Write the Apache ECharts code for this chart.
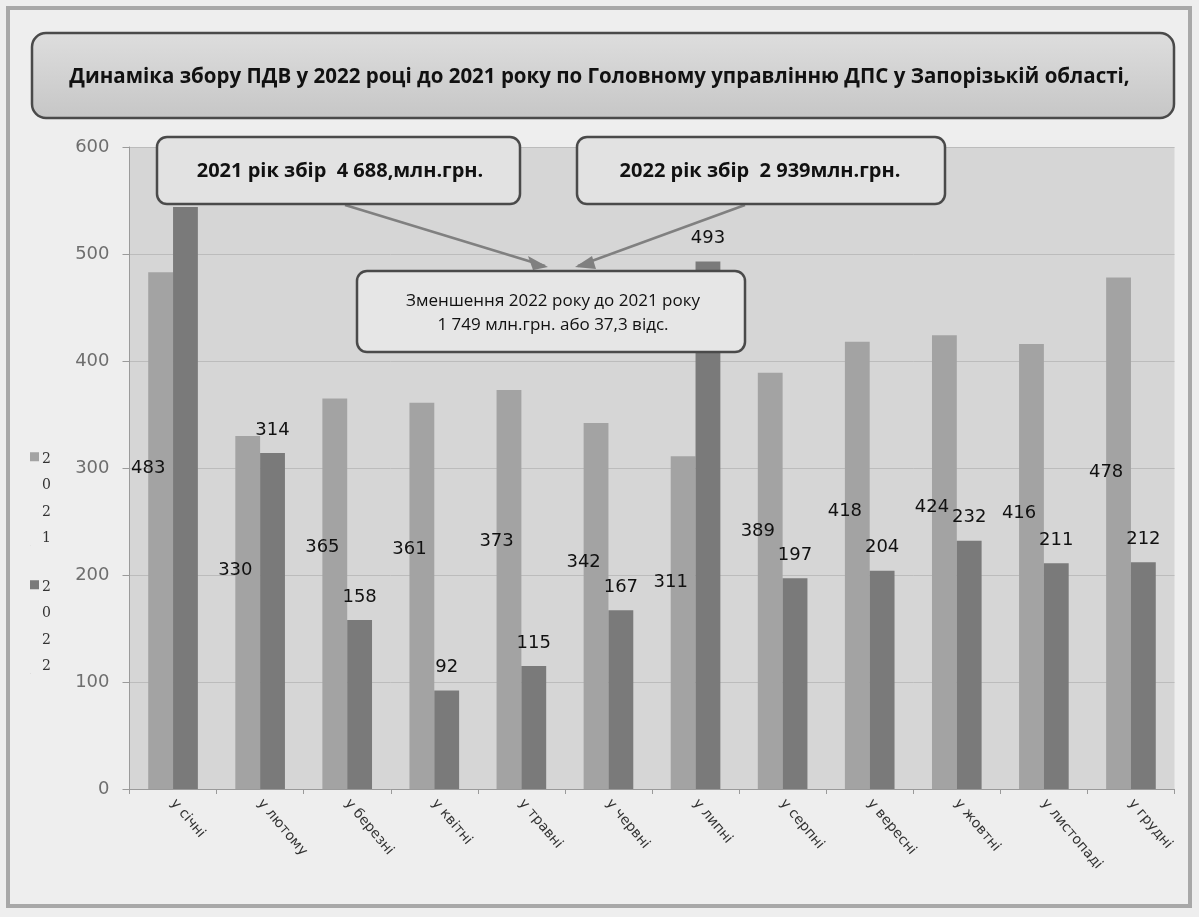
<!DOCTYPE html>
<html>
<head>
<meta charset="utf-8">
<script src="https://cdn.jsdelivr.net/npm/echarts@6/dist/echarts.min.js"></script>
<style>
html,body{margin:0;padding:0;background:#bdbdbd;}
#chart{width:1199px;height:917px;}
</style>
</head>
<body>
<div id="chart"></div>
<script>
const categories = ['у січні', 'у лютому', 'у березні', 'у квітні', 'у травні', 'у червні', 'у липні', 'у серпні', 'у вересні', 'у жовтні', 'у листопаді', 'у грудні'];
const seriesNames = ['2021', '2022'];
const values2021 = [483, 330, 365, 361, 373, 342, 311, 389, 418, 424, 416, 478];
const values2022 = [544, 314, 158, 92, 115, 167, 493, 197, 204, 232, 211, 212];
const yTickLabels = [0, 100, 200, 300, 400, 500, 600];

const titleText = 'Динаміка збору ПДВ у 2022 році до 2021 року по Головному управлінню ДПС у Запорізькій області,';
const box2021Text = '2021 рік збір  4 688,млн.грн.';
const box2022Text = '2022 рік збір  2 939млн.грн.';
const diffText = 'Зменшення 2022 року до 2021 року\n1 749 млн.грн. або 37,3 відс.';

const chart = echarts.init(document.getElementById('chart'));
const legendIcon = 'path://M0,0h10v10h-10zM0,103h0.2v1h-0.2z';

const option = {
  backgroundColor: '#eeeeee',
  animation: false,
  title: {
    text: titleText,
    left: 'center',
    top: 62,
    z: 100,
    textStyle: { fontFamily: 'Open Sans', fontWeight: 'bold', fontSize: 20.5, color: '#111' }
  },
  legend: {
    orient: 'vertical',
    left: 25,
    top: 441,
    itemWidth: 9,
    itemHeight: 104,
    itemGap: 22,
    icon: legendIcon,
    data: seriesNames,
    formatter: function (name) { return name.split('').join('\n'); },
    textStyle: { fontFamily: 'DejaVu Serif', fontSize: 14, lineHeight: 26.5, color: '#333', padding: [0, 0, 0, -2] }
  },
  grid: {
    left: 129.5, right: 24.5, top: 147, bottom: 128,
    show: true, backgroundColor: '#d6d6d6', borderWidth: 0
  },
  xAxis: {
    type: 'category',
    data: categories,
    axisLine: { lineStyle: { color: '#9a9a9a' } },
    axisTick: { show: true, length: 5, lineStyle: { color: '#9a9a9a' } },
    axisLabel: { rotate: -50, fontFamily: 'DejaVu Sans', fontSize: 14, color: '#333', margin: 12 }
  },
  yAxis: {
    type: 'value',
    min: yTickLabels[0],
    max: yTickLabels[yTickLabels.length - 1],
    interval: yTickLabels[1] - yTickLabels[0],
    axisLine: { show: true, lineStyle: { color: '#9a9a9a' } },
    axisTick: { show: true, length: 7, lineStyle: { color: '#9a9a9a' } },
    axisLabel: { fontFamily: 'DejaVu Sans', fontSize: 18, color: '#6e6e6e', margin: 20 },
    splitLine: { lineStyle: { color: '#bcbcbc', width: 1 } }
  },
  series: [
    {
      name: seriesNames[0],
      type: 'bar',
      data: values2021,
      barGap: '0%',
      barCategoryGap: '43%',
      itemStyle: { color: '#a3a3a3' },
      label: {
        show: true,
        position: [0, '38%'],
        align: 'center',
        verticalAlign: 'middle',
        fontFamily: 'DejaVu Sans',
        fontSize: 18,
        color: '#111'
      },
      z: 2
    },
    {
      name: seriesNames[1],
      type: 'bar',
      data: values2022,
      barGap: '0%',
      barCategoryGap: '43%',
      itemStyle: { color: '#7a7a7a' },
      label: {
        show: true,
        position: 'top',
        distance: 14,
        fontFamily: 'DejaVu Sans',
        fontSize: 18,
        color: '#111'
      },
      z: 2
    }
  ],
  graphic: [
    {
      type: 'rect', z: 0, silent: true,
      shape: { x: 8, y: 8, width: 1182, height: 898 },
      style: { fill: 'none', stroke: '#a8a8a8', lineWidth: 4 }
    },
    {
      type: 'rect', z: 50, silent: true,
      shape: { x: 32, y: 33, width: 1142, height: 85, r: 14 },
      style: {
        fill: new echarts.graphic.LinearGradient(0, 0, 0, 1, [
          { offset: 0, color: '#dedede' }, { offset: 1, color: '#c6c6c6' }
        ]),
        stroke: '#4a4a4a', lineWidth: 2.5
      }
    },
    {
      type: 'line', z: 60, silent: true,
      shape: { x1: 345, y1: 205, x2: 545, y2: 266 },
      style: { stroke: '#808080', lineWidth: 2.5 }
    },
    {
      type: 'polygon', z: 60, silent: true,
      shape: { points: [[548, 267], [528, 256], [533, 270]] },
      style: { fill: '#808080' }
    },
    {
      type: 'line', z: 60, silent: true,
      shape: { x1: 745, y1: 205, x2: 578, y2: 266 },
      style: { stroke: '#808080', lineWidth: 2.5 }
    },
    {
      type: 'polygon', z: 60, silent: true,
      shape: { points: [[575, 267], [592, 256], [596, 269]] },
      style: { fill: '#808080' }
    },
    {
      type: 'group', z: 70,
      children: [
        {
          type: 'rect', z: 70, silent: true,
          shape: { x: 157, y: 137, width: 363, height: 67, r: 10 },
          style: { fill: '#e2e2e2', stroke: '#4a4a4a', lineWidth: 2.5 }
        },
        {
          type: 'text', z: 71, silent: true,
          style: { x: 340, y: 171, text: box2021Text, align: 'center', verticalAlign: 'middle',
            font: 'bold 20px "Open Sans"', fill: '#111' }
        },
        {
          type: 'rect', z: 70, silent: true,
          shape: { x: 577, y: 137, width: 368, height: 67, r: 10 },
          style: { fill: '#e2e2e2', stroke: '#4a4a4a', lineWidth: 2.5 }
        },
        {
          type: 'text', z: 71, silent: true,
          style: { x: 760, y: 171, text: box2022Text, align: 'center', verticalAlign: 'middle',
            font: 'bold 20px "Open Sans"', fill: '#111' }
        },
        {
          type: 'rect', z: 70, silent: true,
          shape: { x: 357, y: 271, width: 388, height: 81, r: 10 },
          style: { fill: '#e6e6e6', stroke: '#4a4a4a', lineWidth: 2.5 }
        },
        {
          type: 'text', z: 71, silent: true,
          style: { x: 553, y: 313, text: diffText, align: 'center', verticalAlign: 'middle',
            font: '17px "Open Sans"', lineHeight: 24, fill: '#111' }
        }
      ]
    }
  ]
};
chart.setOption(option);
</script>
</body>
</html>
